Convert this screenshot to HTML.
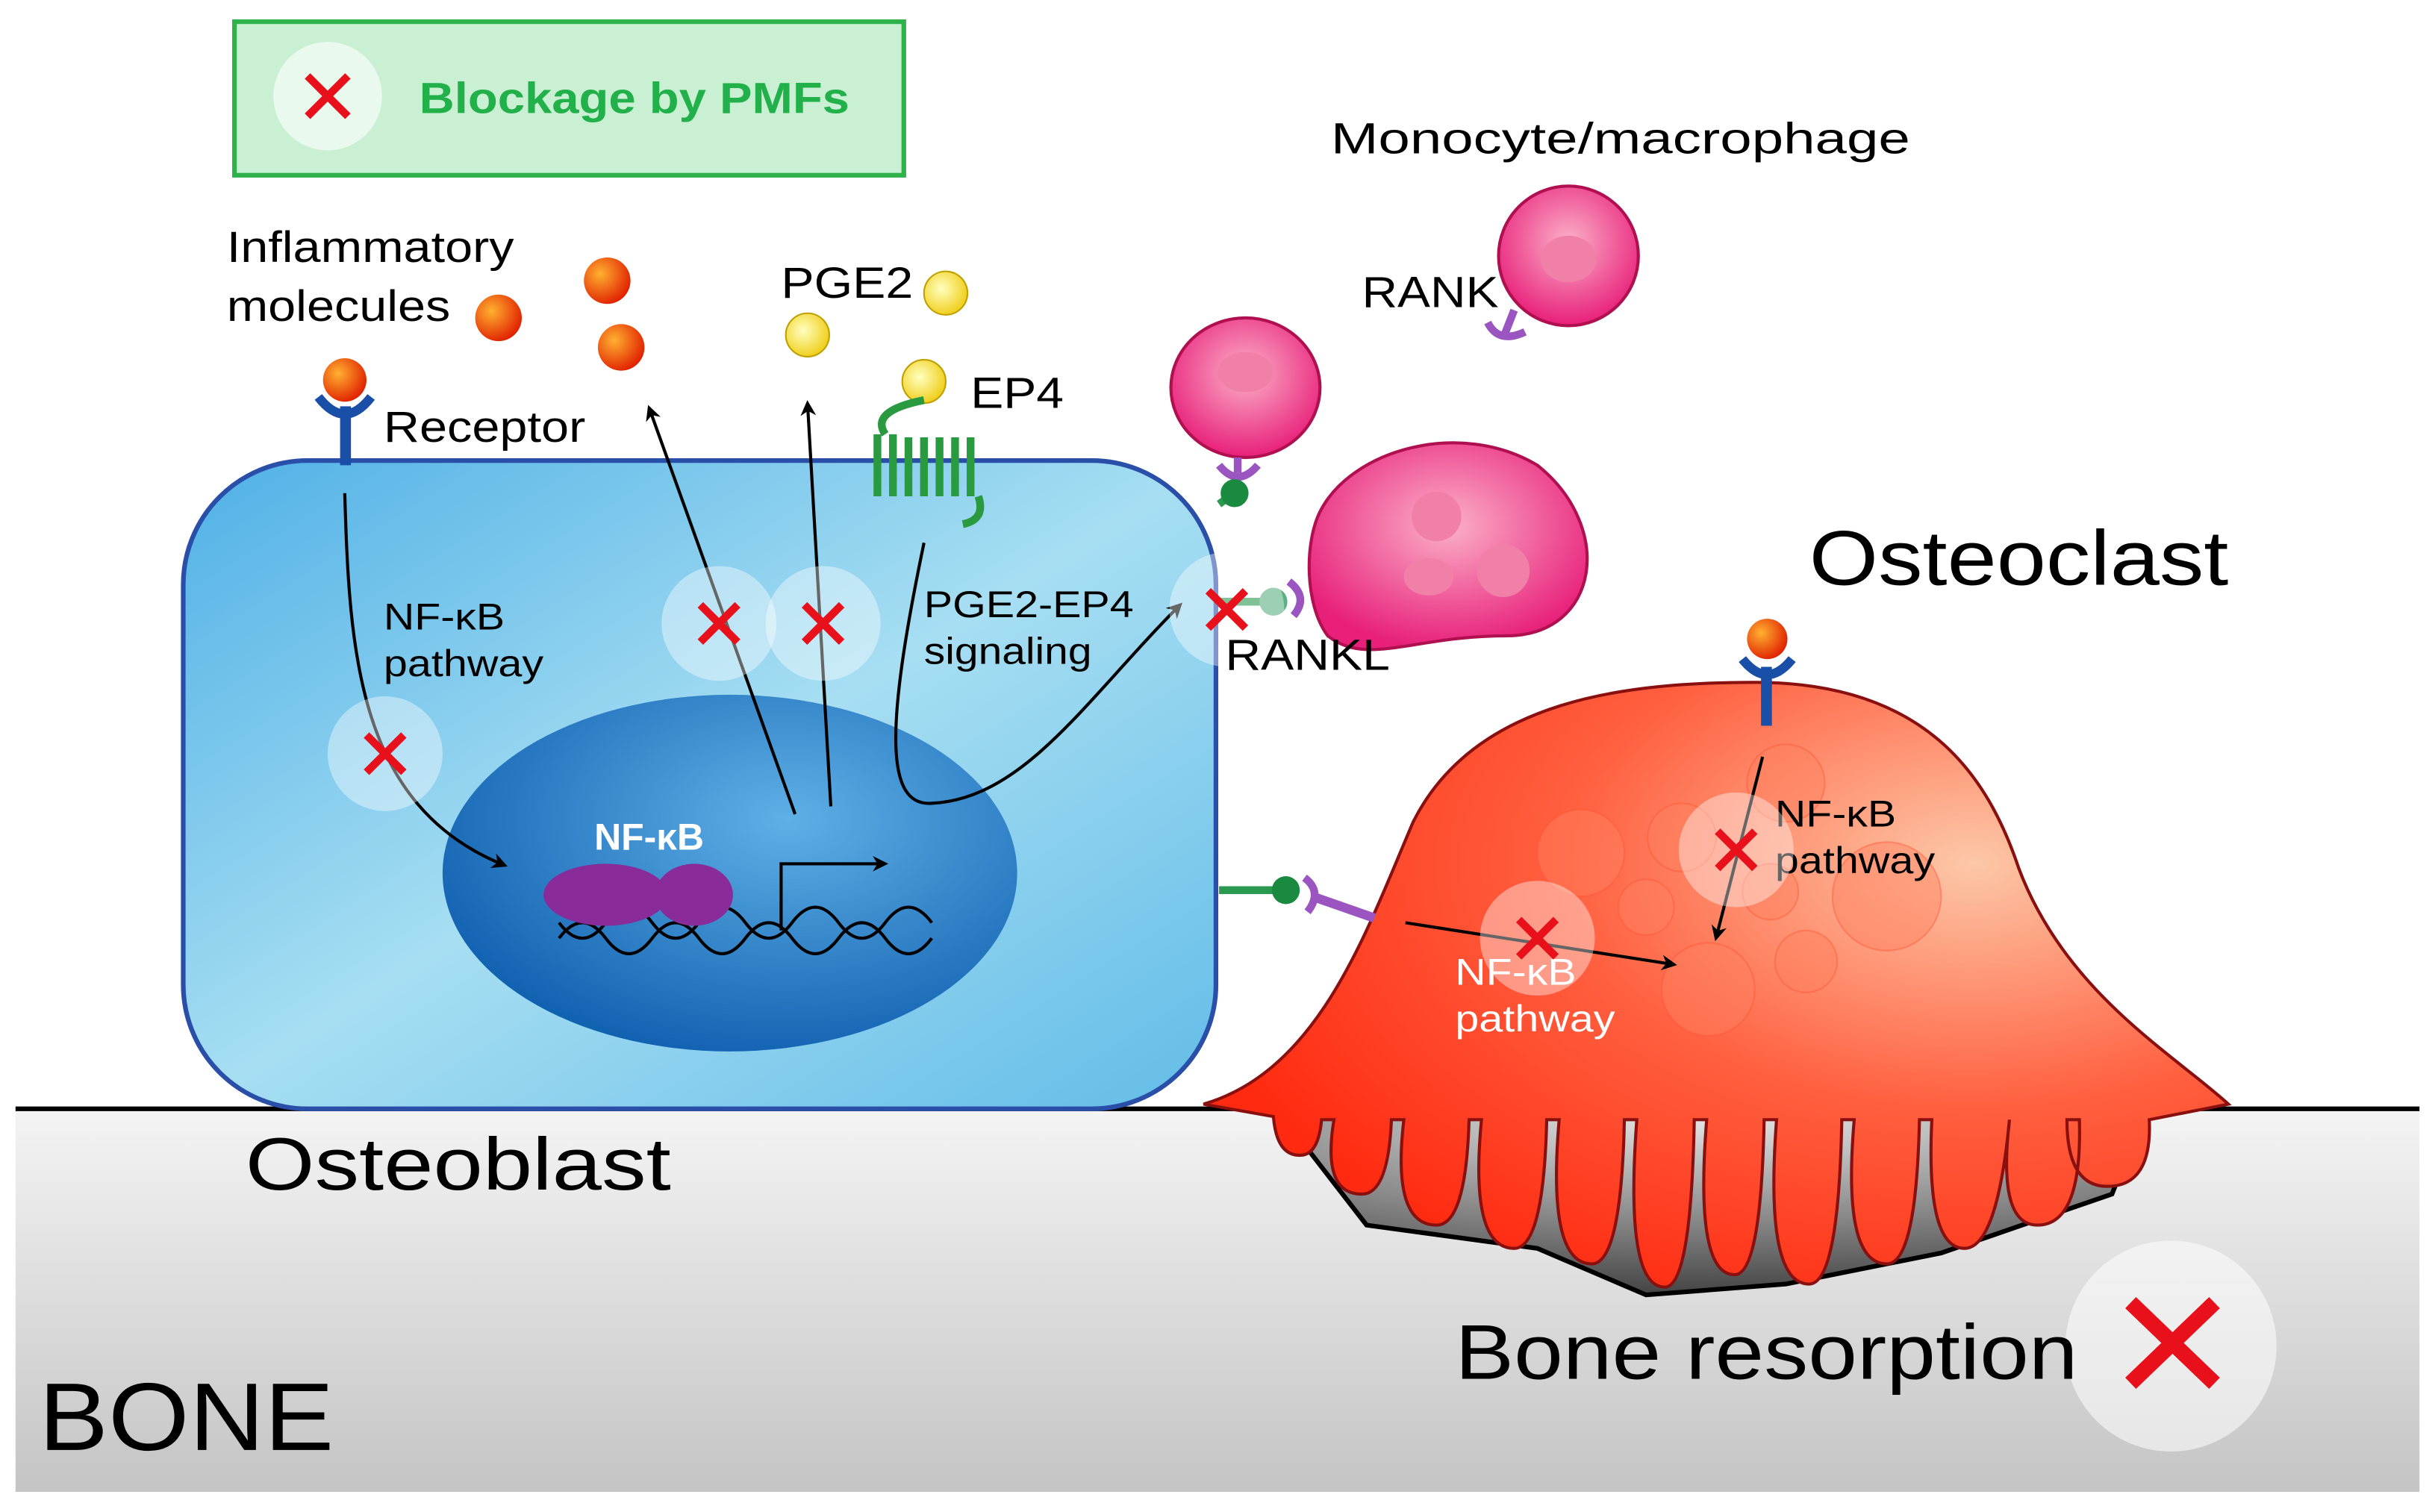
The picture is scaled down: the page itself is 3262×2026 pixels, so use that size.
<!DOCTYPE html>
<html><head><meta charset="utf-8"><style>
html,body{margin:0;padding:0;background:#fff}
svg{display:block}
text{font-family:"Liberation Sans",sans-serif}
</style></head><body>
<svg width="3262" height="2026" viewBox="0 0 1568 975" preserveAspectRatio="none" xmlns="http://www.w3.org/2000/svg">
<defs>
<linearGradient id="bone" x1="0" y1="0" x2="0" y2="1"><stop offset="0" stop-color="#f4f4f4"/><stop offset="1" stop-color="#c4c4c4"/></linearGradient>
<linearGradient id="ob" x1="0" y1="0" x2="1" y2="1"><stop offset="0" stop-color="#4fb0e6"/><stop offset="0.5" stop-color="#a7def2"/><stop offset="1" stop-color="#62bce8"/></linearGradient>
<radialGradient id="nuc" cx="0.6" cy="0.35" r="0.7"><stop offset="0" stop-color="#5fb0e6"/><stop offset="1" stop-color="#0f5fb0"/></radialGradient>
<radialGradient id="oc" cx="0.75" cy="0.3" r="0.8"><stop offset="0" stop-color="#fcc8a8"/><stop offset="0.5" stop-color="#ff6040"/><stop offset="1" stop-color="#ff2a10"/></radialGradient>
<radialGradient id="pit" cx="0.5" cy="0" r="1"><stop offset="0" stop-color="#eee"/><stop offset="1" stop-color="#444"/></radialGradient>
<radialGradient id="pink" cx="0.5" cy="0.4" r="0.6"><stop offset="0" stop-color="#fbb0c8"/><stop offset="1" stop-color="#e8207a"/></radialGradient>
<radialGradient id="red" cx="0.35" cy="0.35" r="0.7"><stop offset="0" stop-color="#ffb030"/><stop offset="1" stop-color="#e02000"/></radialGradient>
<radialGradient id="yel" cx="0.4" cy="0.4" r="0.6"><stop offset="0" stop-color="#ffffc0"/><stop offset="1" stop-color="#f0d020"/></radialGradient>
<marker id="ar" markerWidth="10" markerHeight="10" refX="8" refY="5" orient="auto" markerUnits="userSpaceOnUse"><path d="M0,0 L10,5 L0,10 L3,5 z" fill="#000"/></marker>
</defs>
<rect x="10" y="715" width="1548" height="247" fill="url(#bone)"/>
<line x1="10" y1="715" x2="1558" y2="715" stroke="#000" stroke-width="3"/>
<path d="M822,715 L880,790 L990,805 L1060,835 L1150,828 L1250,808 L1360,770 L1382,715 Z" fill="url(#pit)" stroke="#000" stroke-width="3"/>
<rect x="118" y="297" width="665" height="418" rx="80" fill="url(#ob)" stroke="#2a4fa8" stroke-width="3"/>
<ellipse cx="470" cy="563" rx="185" ry="115" fill="url(#nuc)"/>
<text x="418" y="548" font-size="24" font-weight="bold" fill="#fff" text-anchor="middle">NF-κB</text>
<path d="M360,605 q15,-20 30,0 t30,0 t30,0 t30,0 t30,0 t30,0 t30,0 t30,0 M360,595 q15,20 30,0 t30,0 t30,0 t30,0 t30,0 t30,0 t30,0 t30,0" fill="none" stroke="#000" stroke-width="2"/>
<ellipse cx="390" cy="577" rx="40" ry="20" fill="#8a2b9a"/>
<ellipse cx="447" cy="577" rx="25" ry="20" fill="#8a2b9a"/>
<path d="M503,600 V557 H570" fill="none" stroke="#000" stroke-width="2" marker-end="url(#ar)"/>
<!-- osteoclast -->
<path d="M775,712 C850,690 880,600 910,530 C950,450 1050,440 1130,440 C1240,440 1280,500 1300,560 C1330,640 1400,680 1435,712
L1384,722 Q1386,765 1357,765 Q1331,765 1331,722
L1339,722 Q1341,790 1312,790 Q1286,790 1294,722
L1294,722 Q1286,805 1265,805 Q1240,805 1244,722
L1236,722 Q1234,815 1215,815 Q1186,815 1194,722
L1186,722 Q1184,828 1165,828 Q1136,828 1144,722
L1136,722 Q1134,822 1117,822 Q1091,822 1099,722
L1091,722 Q1089,830 1072,830 Q1046,830 1054,722
L1046,722 Q1044,815 1025,815 Q996,815 1004,722
L996,722 Q994,805 975,805 Q946,805 954,722
L946,722 Q944,790 925,790 Q896,790 904,722
L896,722 Q894,770 877,770 Q851,770 859,722
L851,722 Q849,745 837,745 Q822,745 820,720 Z" fill="url(#oc)" stroke="#8a1010" stroke-width="2"/>
<g fill="#ff8060" fill-opacity="0.45" stroke="#ff5030" stroke-opacity="0.4">
<circle cx="1018" cy="550" r="28"/><circle cx="1083" cy="540" r="22"/><circle cx="1150" cy="505" r="25"/><circle cx="1060" cy="585" r="18"/><circle cx="1100" cy="638" r="30"/><circle cx="1163" cy="620" r="20"/><circle cx="1215" cy="578" r="35"/><circle cx="1140" cy="575" r="18"/>
</g>
<rect x="1134" y="430" width="7" height="38" fill="#1a4fa8"/>
<path d="M1122,425 Q1138,445 1154,425" fill="none" stroke="#1a4fa8" stroke-width="6"/>
<circle cx="1138" cy="412" r="13" fill="url(#red)"/>
<line x1="1135" y1="488" x2="1105" y2="605" stroke="#000" stroke-width="2" marker-end="url(#ar)"/>
<line x1="905" y1="595" x2="1078" y2="622" stroke="#000" stroke-width="2" marker-end="url(#ar)"/>
<g font-size="24"><text x="1143" y="533" textLength="78" lengthAdjust="spacingAndGlyphs">NF-κB</text><text x="1143" y="563" textLength="103" lengthAdjust="spacingAndGlyphs">pathway</text></g>
<g font-size="24" fill="#fff"><text x="937" y="635" textLength="78" lengthAdjust="spacingAndGlyphs">NF-κB</text><text x="937" y="665" textLength="103" lengthAdjust="spacingAndGlyphs">pathway</text></g>
<line x1="785" y1="574" x2="825" y2="574" stroke="#2a9a50" stroke-width="5"/><circle cx="828" cy="574" r="9" fill="#1a8a40"/>
<line x1="845" y1="578" x2="885" y2="592" stroke="#9a55c0" stroke-width="6"/><path d="M840,566 Q852,575 842,588" fill="none" stroke="#9a55c0" stroke-width="5"/>
<circle cx="1010" cy="165" r="45" fill="url(#pink)" stroke="#b01050" stroke-width="2"/><ellipse cx="1010" cy="167" rx="18" ry="15" fill="#f080a8"/>
<line x1="975" y1="200" x2="968" y2="218" stroke="#9a55c0" stroke-width="5"/><path d="M958,208 Q965,222 982,214" fill="none" stroke="#9a55c0" stroke-width="5"/>
<ellipse cx="802" cy="250" rx="48" ry="45" fill="url(#pink)" stroke="#b01050" stroke-width="2"/><ellipse cx="802" cy="240" rx="18" ry="13" fill="#f080a8"/>
<line x1="797" y1="295" x2="797" y2="305" stroke="#9a55c0" stroke-width="5"/><path d="M785,300 Q797,315 810,300" fill="none" stroke="#9a55c0" stroke-width="5"/>
<line x1="785" y1="325" x2="795" y2="318" stroke="#2a9a50" stroke-width="5"/><circle cx="795" cy="318" r="9" fill="#1a8a40"/>
<path d="M850,330 C870,290 940,270 990,300 C1040,340 1030,410 970,410 C910,410 880,430 855,410 C840,390 840,350 850,330 Z" fill="url(#pink)" stroke="#b01050" stroke-width="2"/>
<circle cx="925" cy="333" r="16" fill="#f080a8"/><ellipse cx="920" cy="372" rx="16" ry="12" fill="#f080a8"/><circle cx="968" cy="368" r="17" fill="#f080a8"/>
<line x1="783" y1="388" x2="815" y2="388" stroke="#2a9a50" stroke-width="5"/><circle cx="820" cy="388" r="9" fill="#5ab080"/>
<path d="M830,375 Q843,385 833,397" fill="none" stroke="#9a55c0" stroke-width="5"/>
<rect x="219" y="262" width="7" height="38" fill="#1a4fa8"/>
<path d="M205,256 Q222,278 239,256" fill="none" stroke="#1a4fa8" stroke-width="6"/>
<circle cx="222" cy="245" r="14" fill="url(#red)"/>
<circle cx="321" cy="205" r="15" fill="url(#red)"/><circle cx="391" cy="181" r="15" fill="url(#red)"/><circle cx="400" cy="224" r="15" fill="url(#red)"/>
<circle cx="609" cy="189" r="14" fill="url(#yel)" stroke="#c0a000"/><circle cx="520" cy="216" r="14" fill="url(#yel)" stroke="#c0a000"/><circle cx="595" cy="246" r="14" fill="url(#yel)" stroke="#c0a000"/>
<path d="M595,258 Q560,265 570,280 M565,280 v40 M575,280 v40 M585,282 v38 M595,282 v38 M605,282 v38 M615,282 v38 M625,282 v38 M630,320 q5,15 -10,18" fill="none" stroke="#2a9a40" stroke-width="5"/>
<path d="M222,318 C225,420 230,520 325,558" fill="none" stroke="#000" stroke-width="2" marker-end="url(#ar)"/>
<line x1="512" y1="525" x2="418" y2="263" stroke="#000" stroke-width="2" marker-end="url(#ar)"/>
<line x1="535" y1="520" x2="520" y2="260" stroke="#000" stroke-width="2" marker-end="url(#ar)"/>
<path d="M595,350 C570,470 570,520 600,518 C660,515 700,450 760,390" fill="none" stroke="#000" stroke-width="2" marker-end="url(#ar)"/>
<g fill="#fff" fill-opacity="0.4">
<circle cx="248" cy="486" r="37"/><circle cx="463" cy="402" r="37"/><circle cx="530" cy="402" r="37"/><circle cx="790" cy="393" r="37"/><circle cx="1118" cy="548" r="37"/><circle cx="990" cy="605" r="37"/>
</g>
<circle cx="1398" cy="868" r="68" fill="#fff" fill-opacity="0.55"/>
<g stroke="#e8101a" stroke-width="5">
<path d="M236,474 l24,24 M260,474 l-24,24"/><path d="M451,390 l24,24 M475,390 l-24,24"/><path d="M518,390 l24,24 M542,390 l-24,24"/><path d="M778,381 l24,24 M802,381 l-24,24"/><path d="M1106,536 l24,24 M1130,536 l-24,24"/><path d="M978,593 l24,24 M1002,593 l-24,24"/>
</g>
<path d="M1372,840 l54,52 M1426,840 l-54,52" stroke="#e8101a" stroke-width="10"/>
<rect x="151" y="14" width="431" height="99" fill="#c9f0d3" stroke="#2db34a" stroke-width="3"/>
<circle cx="211" cy="62" r="35" fill="#fff" fill-opacity="0.6"/>
<path d="M198,49 l26,26 M224,49 l-26,26" stroke="#e8101a" stroke-width="5"/>
<text x="270" y="73" font-size="28" font-weight="bold" fill="#22b04a" textLength="277" lengthAdjust="spacingAndGlyphs">Blockage by PMFs</text>
<g font-size="28" fill="#000">
<text x="146" y="169" textLength="185" lengthAdjust="spacingAndGlyphs">Inflammatory</text><text x="146" y="207" textLength="144" lengthAdjust="spacingAndGlyphs">molecules</text>
<text x="247" y="285" textLength="130" lengthAdjust="spacingAndGlyphs">Receptor</text>
<text x="503" y="192" textLength="85" lengthAdjust="spacingAndGlyphs">PGE2</text>
<text x="625" y="263" textLength="60" lengthAdjust="spacingAndGlyphs">EP4</text>
<text x="857" y="99" textLength="373" lengthAdjust="spacingAndGlyphs">Monocyte/macrophage</text>
<text x="877" y="198" textLength="88" lengthAdjust="spacingAndGlyphs">RANK</text>
<text x="789" y="432" textLength="106" lengthAdjust="spacingAndGlyphs">RANKL</text>
</g>
<g font-size="24"><text x="247" y="406" textLength="78" lengthAdjust="spacingAndGlyphs">NF-κB</text><text x="247" y="436" textLength="103" lengthAdjust="spacingAndGlyphs">pathway</text>
<text x="595" y="398" textLength="135" lengthAdjust="spacingAndGlyphs">PGE2-EP4</text><text x="595" y="428" textLength="108" lengthAdjust="spacingAndGlyphs">signaling</text></g>
<text x="1165" y="377" font-size="50" textLength="270" lengthAdjust="spacingAndGlyphs">Osteoclast</text>
<text x="158" y="767" font-size="48" textLength="274" lengthAdjust="spacingAndGlyphs">Osteoblast</text>
<text x="937" y="889" font-size="50" textLength="401" lengthAdjust="spacingAndGlyphs">Bone resorption</text>
<text x="25" y="935" font-size="62" textLength="190" lengthAdjust="spacingAndGlyphs">BONE</text>
</svg>
</body></html>
